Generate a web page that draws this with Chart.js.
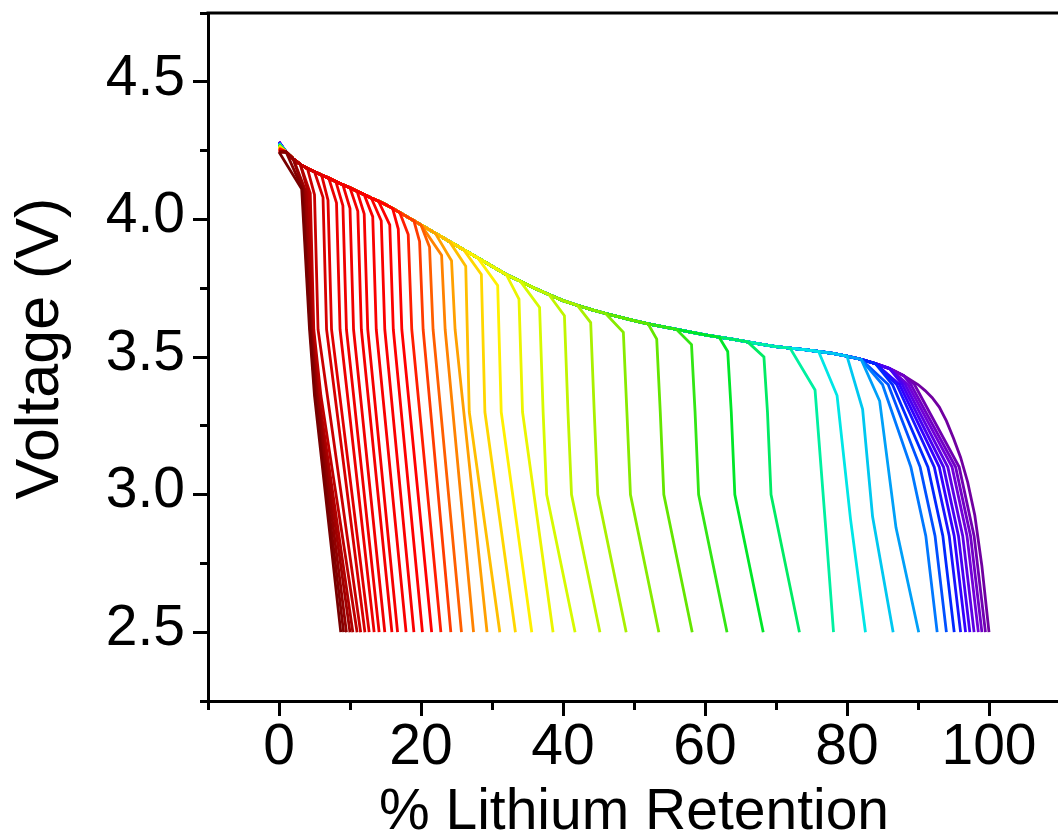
<!DOCTYPE html>
<html>
<head>
<meta charset="utf-8">
<script src="https://cdn.jsdelivr.net/npm/chart.js@4/dist/chart.umd.min.js"></script>
<style>
html,body{margin:0;padding:0;overflow:hidden;background:#fff}
#wrap{width:1060px;height:838px}
</style>
</head>
<body>
<div id="wrap"><canvas id="c" width="1060" height="838"></canvas></div>
<script>
// ---------- data ----------
// shared upper discharge envelope: % Lithium Retention -> Voltage (V)
const envX = [0,1,2,3,4,5,6,7,8,9,10,11,12,13,14,15,16,17,18,19,20,21,22,23,24,25,26,27,28,29,30,32,34,36,38,40,42,44,46,48,50,52,54,56,58,60,62,64,66,68,70,72,74,76,78,80,82,84,86,88,90,91,92,93,94,95,96,97,98,99,99.5,100];
const envV = [4.28,4.245,4.22,4.20,4.185,4.173,4.161,4.15,4.138,4.126,4.115,4.102,4.09,4.078,4.067,4.054,4.04,4.025,4.01,3.995,3.98,3.965,3.95,3.935,3.92,3.905,3.89,3.875,3.86,3.845,3.83,3.80,3.775,3.75,3.727,3.705,3.688,3.672,3.658,3.645,3.632,3.62,3.61,3.60,3.59,3.58,3.572,3.564,3.555,3.546,3.538,3.532,3.527,3.52,3.513,3.503,3.491,3.476,3.458,3.432,3.40,3.378,3.352,3.318,3.268,3.205,3.135,3.045,2.925,2.74,2.62,2.50];

// per-curve values, curve 0 = full capacity (violet) ... curve 49 = most faded (dark red)
const startV = [4.282,4.282,4.281,4.281,4.280,4.280,4.279,4.279,4.278,4.278,4.277,
  4.276,4.275,4.274,4.273,4.272,4.271,4.270,4.269,4.268,4.267,4.266,4.265,
  4.264,4.263,4.262,4.261,4.260,4.259,4.258,4.257,
  4.256,4.255,4.254,4.253,4.252,4.251,4.250,4.250,4.249,4.249,4.248,4.248,4.247,4.247,4.246,4.246,4.245,4.245,4.245];
const leaveX = [100,88,88,86,86,86,84,84,84,82,82,
  82,80,76,72,
  66,62,56,52,46,42,38,34,
  32,28,26,24,22,20,20,19,
  17,16,14,13,12,11,10,9,8,7,6,5,4,3,3,2,2,1,0];
const kneeX = [null,89.5,89.0,88.6,88.2,87.8,87.4,87.0,86.4,85.8,85.0,
  84.6,82.2,78.6,75.5,
  68.3,63.2,58.1,53.2,48.5,43.9,40.2,36.7,
  33.8,30.8,28.5,26.3,24.3,22.9,21.2,19.8,
  18.2,16.8,15.6,14.4,13.2,12.0,11.1,10.0,9.0,8.1,6.9,6.2,5.0,4.4,4.1,3.8,3.5,3.3,3.2];
const kneeV = [null,3.40,3.40,3.40,3.40,3.40,3.40,3.40,3.40,3.40,3.40,
  3.34,3.31,3.36,3.38,
  3.50,3.52,3.545,3.565,3.59,3.625,3.65,3.68,
  3.71,3.76,3.80,3.83,3.85,3.87,3.90,3.92,
  3.945,3.965,3.98,3.995,4.01,4.02,4.03,4.04,4.05,4.06,4.07,4.08,4.09,4.095,4.10,4.10,4.105,4.11,4.11];
const midX = [null,95.8,95.3,94.8,94.2,93.6,93.0,92.3,91.4,90.3,89.0,
  null,null,null,null,
  68.8,63.7,58.6,53.7,49.0,44.4,40.7,37.2,
  34.3,31.3,29.0,26.8,24.8,23.4,21.7,20.3,
  18.7,17.3,16.1,14.9,13.7,12.5,11.6,10.5,9.5,8.6,7.4,6.7,5.5,4.9,4.7,4.6,4.5,4.4,4.3];
const midV = [null,3.10,3.10,3.10,3.10,3.10,3.10,3.10,3.10,3.10,3.10,
  null,null,null,null,
  3.30,3.30,3.30,3.30,3.30,3.30,3.30,3.30,
  3.30,3.30,3.30,3.30,3.60,3.60,3.60,3.60,
  3.60,3.60,3.60,3.60,3.60,3.60,3.60,3.60,3.60,3.60,3.60,3.60,3.60,3.60,3.60,3.60,3.60,3.60,3.60];
const lowX = [null,97.9,97.4,96.9,96.3,95.7,95.1,94.4,93.5,92.4,91.1,
  86.9,83.6,80.5,77.0,
  69.3,64.2,59.1,54.2,49.5,44.9,41.2,37.7,
  null,null,null,null,null,null,null,null,
  null,null,null,null,null,null,null,null,null,null,null,null,null,5.9,5.6,5.4,5.3,5.1,5.0];
const lowV = [null,2.85,2.85,2.85,2.85,2.85,2.85,2.85,2.85,2.85,2.85,
  2.88,2.92,2.91,2.88,
  3.0,3.0,3.0,3.0,3.0,3.0,3.0,3.0,
  null,null,null,null,null,null,null,null,
  null,null,null,null,null,null,null,null,null,null,null,null,null,3.36,3.36,3.36,3.36,3.36,3.36];
const endX = [100,99.5,99.0,98.5,97.9,97.3,96.7,96.0,95.1,94.0,92.7,
  90.1,86.5,82.6,78.1,
  73.3,68.2,63.1,58.2,53.5,48.9,45.2,41.7,
  38.6,35.6,33.3,31.1,29.3,27.4,25.7,24.2,
  22.8,21.5,20.2,19.0,17.9,16.7,15.9,14.9,14.1,13.4,12.7,12.1,11.5,11.0,10.4,10.0,9.5,9.1,8.7];
const cutoffV = 2.5;

// tick labels
const xLabelValues = [0,20,40,60,80,100];
const yLabelValues = [2.5,3.0,3.5,4.0,4.5];
const xTitle = '% Lithium Retention';
const yTitle = 'Voltage (V)';

// ---------- style ----------
const colorStops = [
  [0,112,0,160],[3,112,0,215],[6,50,0,255],[8,0,40,255],[10,0,120,255],
  [12,0,200,240],[13,0,230,230],[14,0,240,160],[16,0,230,40],[18,100,230,0],
  [20,170,240,0],[22,215,250,0],[24,255,240,0],[26,255,190,0],[28,255,130,0],
  [30,255,60,0],[32,255,0,0],[40,235,0,0],[44,190,0,0],[49,120,0,0]
];
function curveColor(i){
  for(let k=0;k<colorStops.length-1;k++){
    const a=colorStops[k], b=colorStops[k+1];
    if(i>=a[0] && i<=b[0]){
      const t=(i-a[0])/(b[0]-a[0]);
      const c=[1,2,3].map(j=>Math.round(a[j]+(b[j]-a[j])*t));
      return `rgb(${c[0]},${c[1]},${c[2]})`;
    }
  }
  const l=colorStops[colorStops.length-1];
  return `rgb(${l[1]},${l[2]},${l[3]})`;
}

const datasets = [];
for(let i=0;i<endX.length;i++){
  const pts=[{x:0,y:startV[i]}];
  for(let j=0;j<envX.length;j++){
    if(envX[j]>0 && envX[j]<=leaveX[i]) pts.push({x:envX[j],y:envV[j]});
  }
  if(i>0){
    pts.push({x:kneeX[i],y:kneeV[i]});
    if(midX[i]!==null) pts.push({x:midX[i],y:midV[i]});
    if(lowX[i]!==null) pts.push({x:lowX[i],y:lowV[i]});
    pts.push({x:endX[i],y:cutoffV});
  }
  datasets.push({
    data:pts, showLine:true, borderColor:curveColor(i), backgroundColor:curveColor(i),
    borderWidth:2.8, pointRadius:0, fill:false, tension:0, order:-i
  });
}

const FONT='"Liberation Sans", Arial, Helvetica, sans-serif';
const isMul=(v,s)=>Math.abs(v/s-Math.round(v/s))<1e-6;

const framePlugin={
  id:'frame',
  afterDraw(chart){
    const {ctx,chartArea:a}=chart;
    ctx.save();
    ctx.strokeStyle='#000'; ctx.lineWidth=3;
    ctx.beginPath();
    ctx.moveTo(a.left-1.5,a.top); ctx.lineTo(a.right,a.top);
    ctx.moveTo(a.right,a.top); ctx.lineTo(a.right,a.bottom);
    ctx.stroke();
    ctx.restore();
  }
};

new Chart(document.getElementById('c'),{
  type:'scatter',
  data:{datasets},
  options:{
    responsive:false, animation:false, events:[],
    layout:{padding:{top:13,left:0,right:0,bottom:0}},
    plugins:{legend:{display:false},tooltip:{enabled:false}},
    scales:{
      x:{
        type:'linear', min:-10, max:110,
        afterFit(s){ s.height=137; s.paddingLeft=0; s.paddingRight=0; },
        ticks:{
          stepSize:10, autoSkip:false, maxRotation:0, padding:4, color:'#000',
          font:{family:FONT,size:57,lineHeight:1},
          callback:(v)=> xLabelValues.includes(Math.round(v)) && isMul(v,1) ? String(Math.round(v)) : ''
        },
        grid:{
          drawOnChartArea:false, drawTicks:true, tickLength:15, tickWidth:3, tickColor:'#000',
          tickBorderDash:(c)=> (c.tick && isMul(c.tick.value,20)) ? [] : [7,100]
        },
        border:{display:true,color:'#000',width:3},
        title:{display:true,text:xTitle,color:'#000',font:{family:FONT,size:57,lineHeight:0.85},padding:{top:0,bottom:0}}
      },
      y:{
        type:'linear', min:2.25, max:4.75,
        afterFit(s){ s.width=208; s.paddingTop=0; s.paddingBottom=0; },
        ticks:{
          stepSize:0.25, autoSkip:false, padding:8, labelOffset:-3, color:'#000',
          font:{family:FONT,size:57,lineHeight:1},
          callback:(v)=> yLabelValues.some(t=>Math.abs(t-v)<1e-6) ? v.toFixed(1) : ''
        },
        grid:{
          drawOnChartArea:false, drawTicks:true, tickLength:15, tickWidth:3, tickColor:'#000',
          tickBorderDash:(c)=> (c.tick && isMul(c.tick.value,0.5)) ? [] : [0,7,40]
        },
        border:{display:true,color:'#000',width:3},
        title:{display:true,text:' '+yTitle,color:'#000',font:{family:FONT,size:61,lineHeight:1},padding:{top:11,bottom:0}}
      }
    }
  },
  plugins:[framePlugin]
});
</script>
</body>
</html>
